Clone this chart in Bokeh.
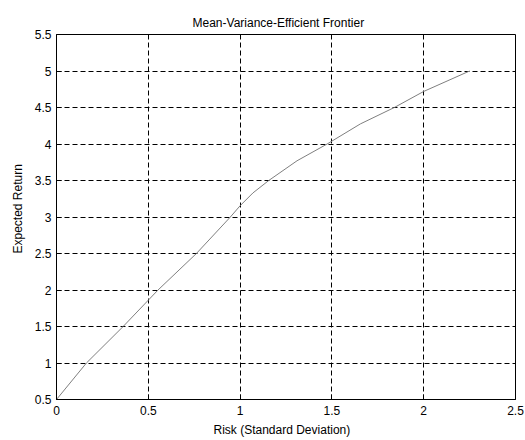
from bokeh.plotting import figure
from bokeh.models import Range1d, Title, FixedTicker
from bokeh.embed import file_html
from bokeh.resources import INLINE

# Data
risk = [0.0, 0.163, 0.363, 0.553, 0.762, 0.947, 1.0, 1.07, 1.156, 1.31, 1.474, 1.655, 1.84, 2.0, 2.25]
expected_return = [0.5, 1.0, 1.5, 2.0, 2.5, 3.0, 3.154, 3.33, 3.5, 3.77, 4.0, 4.275, 4.5, 4.72, 5.0]

x_ticks = [0, 0.5, 1, 1.5, 2, 2.5]
x_tick_labels = ["0", "0.5", "1", "1.5", "2", "2.5"]
y_ticks = [0.5, 1, 1.5, 2, 2.5, 3, 3.5, 4, 4.5, 5, 5.5]
y_tick_labels = ["0.5", "1", "1.5", "2", "2.5", "3", "3.5", "4", "4.5", "5", "5.5"]

title_text = "Mean-Variance-Efficient Frontier"
x_label = "Risk (Standard Deviation)"
y_label = "Expected Return"

FONT = "Liberation Sans"

p = figure(width=525, height=440, output_backend="svg", toolbar_location=None,
           x_range=Range1d(0, 2.5), y_range=Range1d(0.5, 5.5),
           min_border_left=56, min_border_right=10, min_border_top=34, min_border_bottom=41)

p.background_fill_color = "white"
p.border_fill_color = "white"
p.outline_line_color = "black"
p.outline_line_width = 1

p.title.text = title_text
p.title.align = "left"
p.title.offset = 136
p.title.text_font = FONT
p.title.text_font_size = "12px"
p.title.text_font_style = "normal"
p.title.text_color = "black"
p.title.standoff = 10

for ax, ticks, labels in ((p.xaxis[0], x_ticks, x_tick_labels), (p.yaxis[0], y_ticks, y_tick_labels)):
    ax.ticker = FixedTicker(ticks=ticks)
    ax.major_label_overrides = {t: l for t, l in zip(ticks, labels)}
    ax.major_label_text_font = FONT
    ax.major_label_text_font_size = "12px"
    ax.major_label_text_color = "black"
    ax.axis_line_color = "black"
    ax.major_tick_line_color = "black"
    ax.major_tick_in = 5
    ax.major_tick_out = 0
    ax.minor_tick_line_color = None

p.xaxis.major_label_standoff = 6
p.yaxis.major_label_standoff = 5

for g in (p.xgrid[0], p.ygrid[0]):
    g.ticker = FixedTicker(ticks=x_ticks if g is p.xgrid[0] else y_ticks)
    g.grid_line_color = "black"
    g.grid_line_dash = "5 3"
    g.grid_line_width = 1

p.add_layout(Title(text=x_label, align="left", offset=157, text_font=FONT,
                   text_font_size="12px", text_font_style="normal", text_color="black",
                   standoff=7), "below")
p.add_layout(Title(text=y_label, align="left", offset=146, text_font=FONT,
                   text_font_size="12px", text_font_style="normal", text_color="black",
                   standoff=13), "left")

p.line(risk, expected_return, line_color="#7f7f7f", line_width=1)

open("out.html", "w").write(file_html(p, INLINE))
